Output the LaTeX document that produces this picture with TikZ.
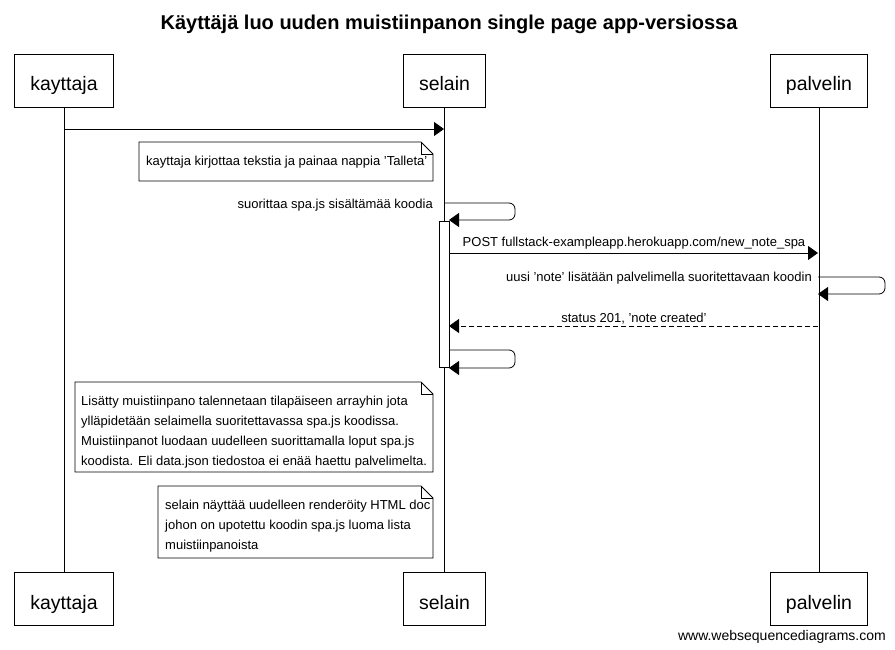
\documentclass[tikz,border=0pt]{standalone}
\usepackage{fontspec}
\setmainfont{Liberation Sans}
\usetikzlibrary{arrows.meta,positioning,calc}
\tikzset{
  part/.style={draw,line width=0.8pt,minimum height=53pt,inner xsep=15.5pt,inner ysep=0pt,font=\fontsize{19.5}{23}\selectfont,text height=22pt,text depth=2pt,anchor=center},
  life/.style={line width=0.8pt},
  msg/.style={line width=0.8pt,-{Triangle[length=10pt,width=14pt]}},
  ret/.style={msg,dashed,dash pattern=on 5pt off 3pt},
  lbl/.style={font=\fontsize{13}{15}\selectfont,inner sep=0pt},
  nl/.style={lbl,anchor=base west},
  notebox/.style={draw,line width=0.8pt,fill=white},
  actbox/.style={draw,line width=0.8pt,fill=white}
}
\newcommand{\notefold}[4]{% x1,y1,x2,y2
  \draw[notebox] (#1,#2) -- (#3-12,#2) -- (#3,#2+12) -- (#3,#4) -- (#1,#4) -- cycle;
  \draw[line width=0.8pt] (#3-12,#2) -- (#3-12,#2+12) -- (#3,#2+12);
}
\begin{document}
\begin{tikzpicture}[x=1pt,y=-1pt]
\useasboundingbox (0,0) rectangle (895,650);
\node[font=\bfseries\fontsize{20}{24}\selectfont,anchor=base,inner sep=0pt] (title) at (449,30) {Käyttäjä luo uuden muistiinpanon single page app-versiossa};
% participants
\node[part] (k1) at (64,81) {kayttaja};
\node[part] (s1) at (444.5,81) {selain};
\node[part] (p1) at (819,81) {palvelin};
\node[part] (k2) at (64,599) {kayttaja};
\node[part] (s2) at (444.5,599) {selain};
\node[part] (p2) at (819,599) {palvelin};
\draw[life] (k1) -- (k2);
\draw[life] (s1) -- (s2);
\draw[life] (p1) -- (p2);
% message 1
\coordinate (m1a) at (64,129);
\coordinate (m1b) at (444,129);
\draw[msg] (m1a) -- (m1b);
% note 1
\notefold{139}{142}{433}{181}
\node[nl] (n1) at (146,166) {kayttaja kirjottaa tekstia ja painaa nappia 'Talleta'};
% activation
\node[actbox,minimum width=10pt,minimum height=146pt,inner sep=0pt,anchor=north] (act) at (444,221) {};
% self loop 1
\coordinate (l1a) at (444,203);
\coordinate (l1b) at (449,220);
\draw[msg,rounded corners=6pt] (l1a) -- (515,203) -- (515,220) -- (l1b);
\node[lbl,anchor=base east] (t1) at (433,209) {suorittaa spa.js sisältämää koodia};
% POST
\coordinate (m2a) at (449,253);
\coordinate (m2b) at (818,253);
\draw[msg] (m2a) -- (m2b);
\node[lbl,anchor=base] (t2) at (634,247) {POST fullstack-exampleapp.herokuapp.com/new\_note\_spa};
% self loop palvelin
\coordinate (l2a) at (818,277);
\coordinate (l2b) at (818,294);
\draw[msg,rounded corners=6pt] (l2a) -- (885,277) -- (885,294) -- (l2b);
\node[lbl,anchor=base east] (t3) at (812,281) {uusi 'note' lisätään palvelimella suoritettavaan koodin};
% return
\coordinate (m3a) at (818,326);
\coordinate (m3b) at (449,326);
\draw[ret] (m3a) -- (m3b);
\node[lbl,anchor=base] (t4) at (634,322) {status 201, 'note created'};
% self loop 2
\coordinate (l3a) at (449,350);
\coordinate (l3b) at (449,368);
\draw[msg,rounded corners=6pt] (l3a) -- (515,350) -- (515,368) -- (l3b);
% note 2
\notefold{75}{382}{433}{472}
\node[nl] (n2a) at (81,405) {Lisätty muistiinpano talennetaan tilapäiseen arrayhin jota};
\node[nl] (n2b) at (81,425) {ylläpidetään selaimella suoritettavassa spa.js koodissa.};
\node[nl] (n2c) at (81,445) {Muistiinpanot luodaan uudelleen suorittamalla loput spa.js};
\node[nl] (n2d) at (81,465) {koodista. Eli data.json tiedostoa ei enää haettu palvelimelta.};
% note 3
\notefold{158}{486}{433}{558}
\node[nl] (n3a) at (165,509) {selain näyttää uudelleen renderöity HTML doc};
\node[nl] (n3b) at (165,529) {johon on upotettu koodin spa.js luoma lista};
\node[nl] (n3c) at (165,549) {muistiinpanoista};
% footer
\node[lbl,anchor=base east,font=\fontsize{14}{16}\selectfont] (foot) at (886,640) {www.websequencediagrams.com};
\end{tikzpicture}
\end{document}
